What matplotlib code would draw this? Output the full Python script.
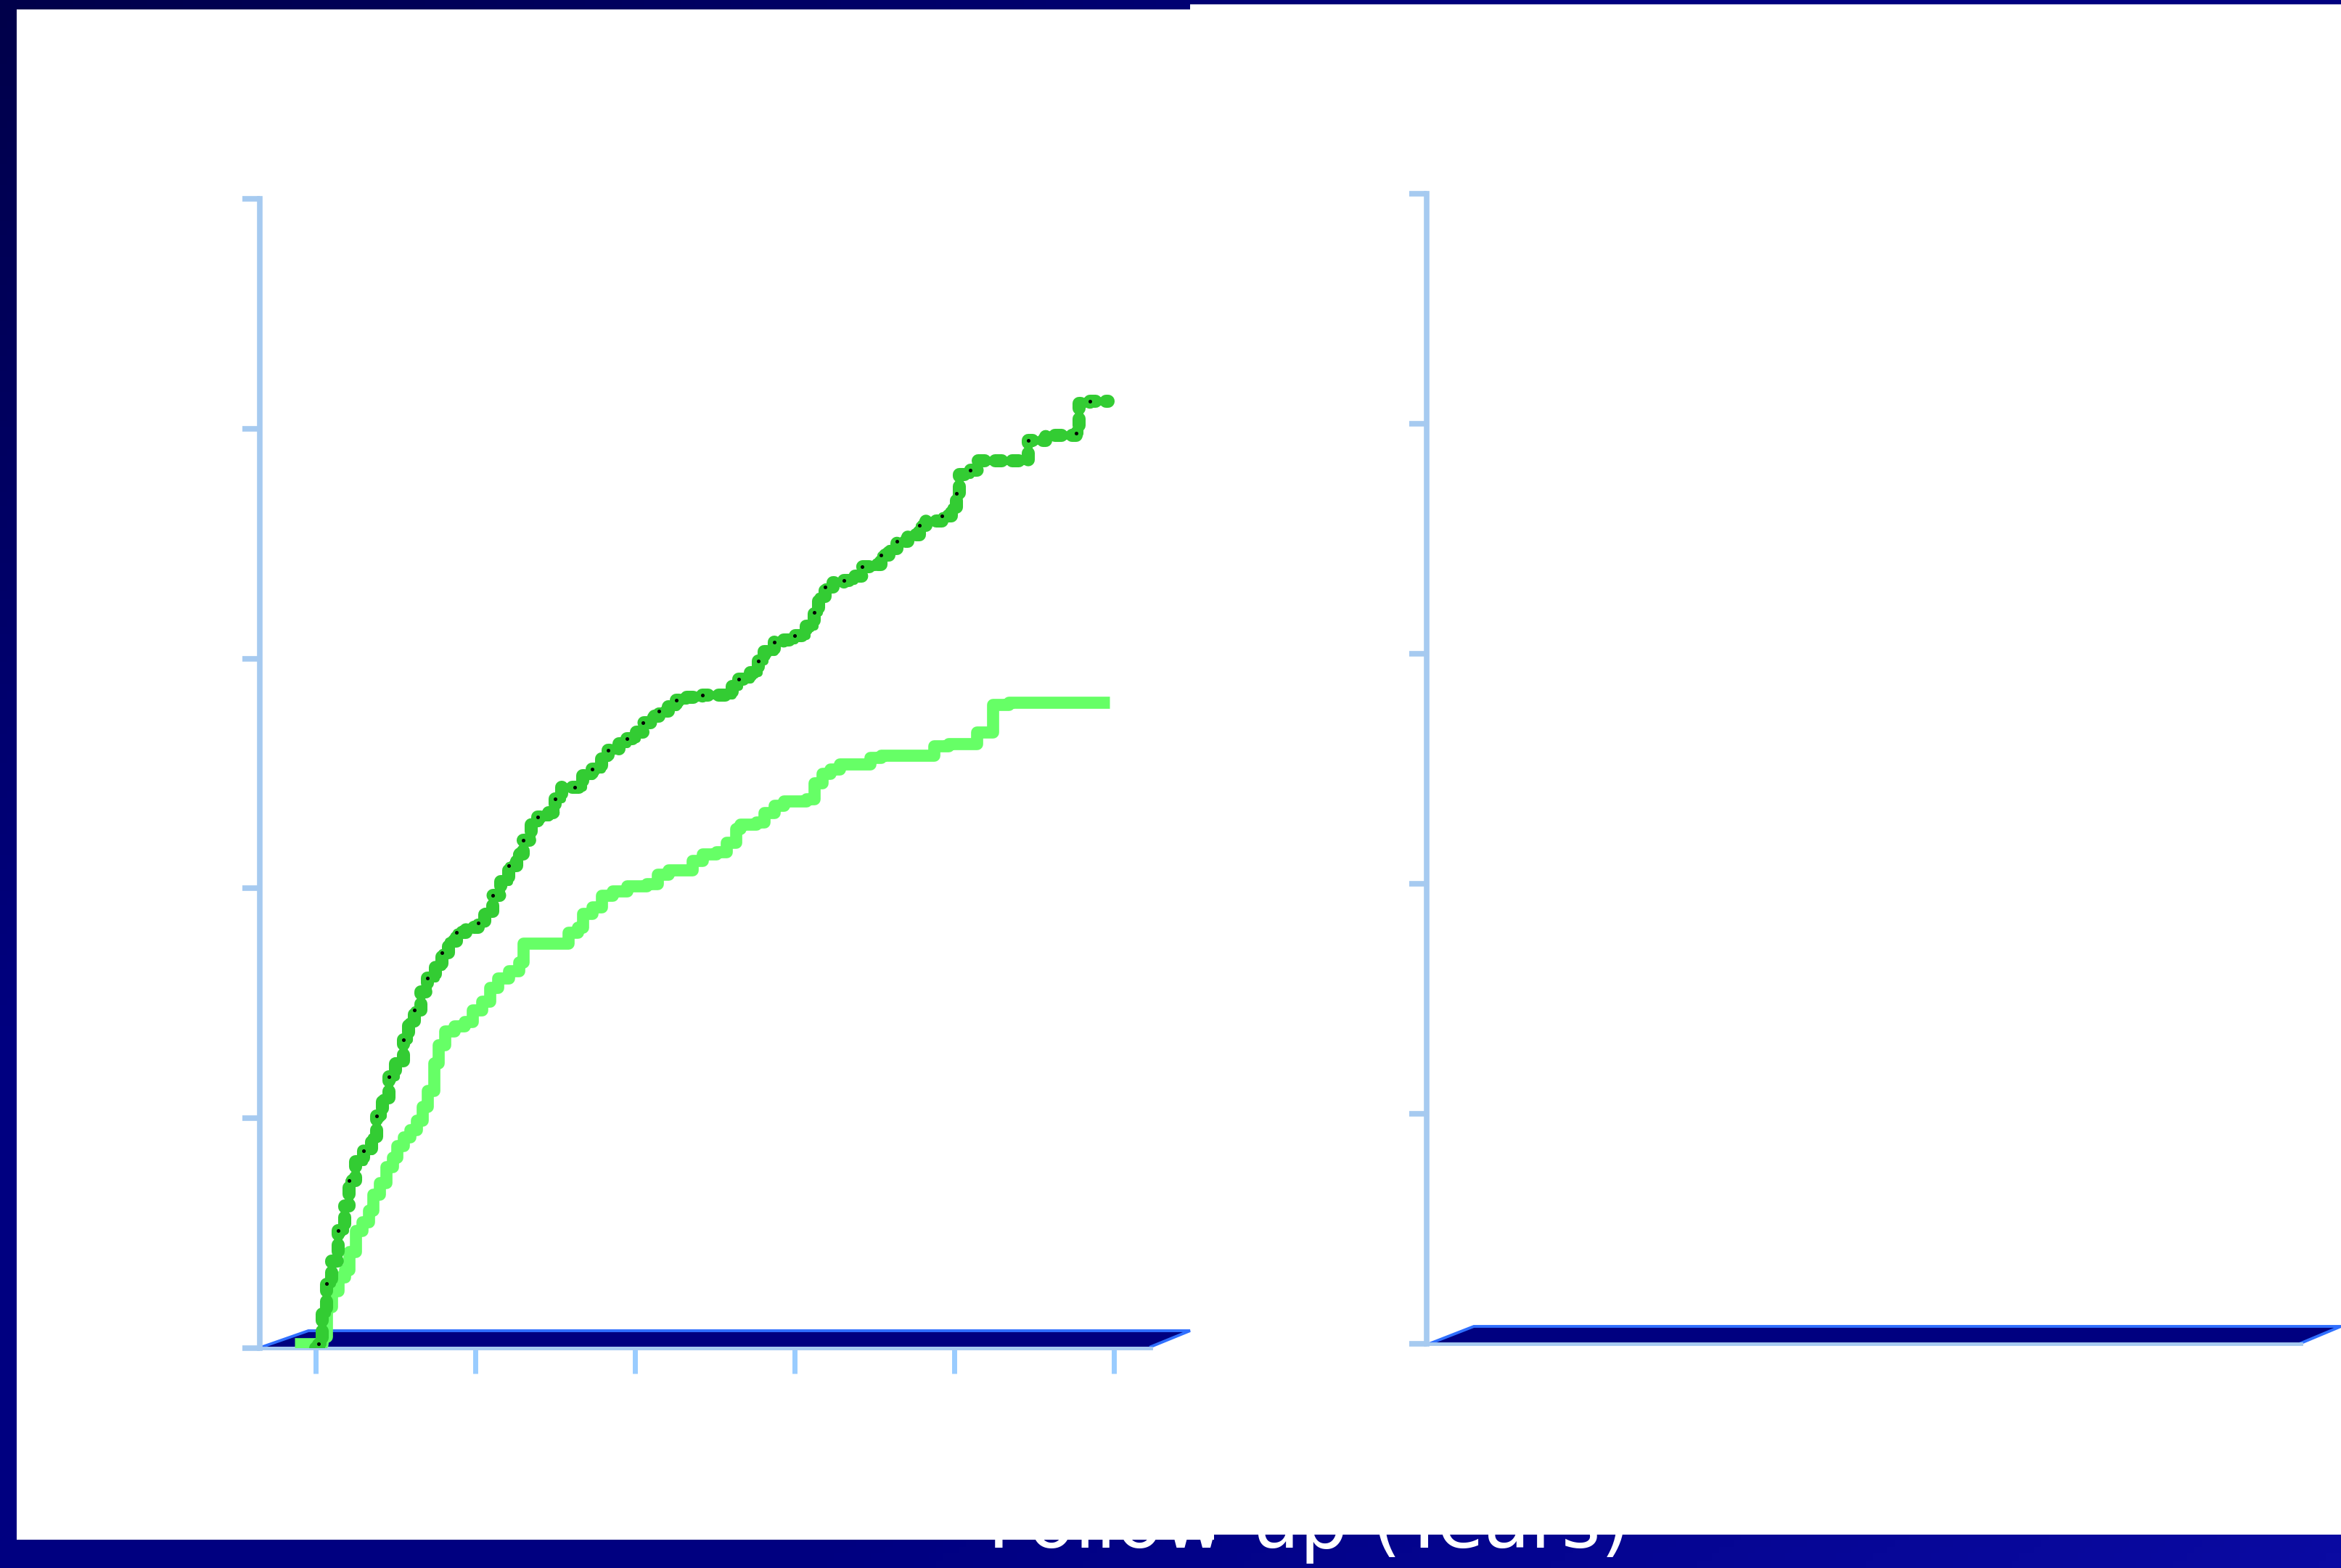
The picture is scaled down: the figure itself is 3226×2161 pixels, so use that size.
import numpy as np
import matplotlib.pyplot as plt
from matplotlib.patches import Polygon, Rectangle
from matplotlib.colors import LinearSegmentedColormap

# cumulative incidence (%) against follow-up time (years)
years_dark = [0.00, 0.02, 0.04, 0.07, 0.10, 0.14, 0.18, 0.21, 0.25, 0.30, 0.35, 0.38, 0.42,
              0.46, 0.50, 0.55, 0.58, 0.62, 0.66, 0.70, 0.75, 0.79, 0.83, 0.88, 0.94,
              1.02, 1.06, 1.11, 1.16, 1.21, 1.26, 1.30, 1.35, 1.39, 1.46, 1.50, 1.54,
              1.62, 1.67, 1.73, 1.79, 1.83, 1.90, 1.95, 2.01, 2.05, 2.10, 2.15, 2.21,
              2.26, 2.32, 2.42, 2.61, 2.65, 2.72, 2.77, 2.81, 2.87, 2.93, 3.00, 3.07,
              3.12, 3.15, 3.19, 3.24, 3.31, 3.37, 3.42, 3.50, 3.54, 3.59, 3.64, 3.71,
              3.78, 3.82, 3.92, 3.98, 4.01, 4.03, 4.10, 4.15, 4.46, 4.57, 4.76, 4.78,
              4.85, 4.96]
rate_dark = [0.0, 0.2, 1.5, 2.8, 3.8, 5.1, 6.2, 7.3, 8.1, 8.6, 9.2, 10.1, 10.9,
             11.8, 12.5, 13.4, 14.2, 14.7, 15.5, 16.1, 16.6, 17.2, 17.7, 18.1, 18.3,
             18.5, 19.0, 19.7, 20.3, 21.0, 21.5, 22.1, 22.9, 23.1, 23.3, 23.9, 24.4,
             24.4, 24.9, 25.2, 25.7, 26.0, 26.3, 26.5, 26.8, 27.2, 27.5, 27.7, 27.9,
             28.2, 28.3, 28.4, 28.8, 29.1, 29.4, 29.9, 30.3, 30.7, 30.8, 31.0, 31.4,
             32.0, 32.7, 33.1, 33.3, 33.4, 33.6, 34.0, 34.1, 34.5, 34.8, 35.1, 35.4,
             35.8, 36.0, 36.2, 36.6, 37.2, 38.0, 38.2, 38.6, 39.5, 39.7, 39.8, 41.1,
             41.2, 41.2]

years_light = [-0.13, 0.04, 0.07, 0.10, 0.14, 0.18, 0.21, 0.25, 0.29, 0.33, 0.36, 0.40,
               0.44, 0.48, 0.51, 0.55, 0.59, 0.63, 0.67, 0.70, 0.74, 0.77, 0.81, 0.87,
               0.93, 0.98, 1.04, 1.09, 1.14, 1.21, 1.27, 1.30, 1.58, 1.64, 1.67, 1.73,
               1.79, 1.86, 1.95, 2.07, 2.14, 2.21, 2.36, 2.42, 2.51, 2.57, 2.63, 2.66,
               2.76, 2.81, 2.87, 2.93, 3.07, 3.12, 3.17, 3.22, 3.28, 3.47, 3.54, 3.87,
               3.96, 4.14, 4.24, 4.34, 4.97]
rate_light = [0.2, 0.5, 1.8, 2.5, 3.1, 3.4, 4.2, 5.1, 5.5, 6.0, 6.7, 7.2,
              7.9, 8.3, 8.8, 9.2, 9.5, 9.9, 10.5, 11.2, 12.4, 13.2, 13.8, 14.0,
              14.2, 14.7, 15.1, 15.7, 16.1, 16.4, 16.8, 17.6, 18.1, 18.3, 18.9, 19.2,
              19.7, 19.9, 20.1, 20.2, 20.6, 20.8, 21.2, 21.5, 21.6, 22.0, 22.6, 22.8,
              22.9, 23.3, 23.6, 23.8, 23.9, 24.6, 25.0, 25.2, 25.4, 25.7, 25.8, 26.2,
              26.3, 26.8, 28.0, 28.1, 28.1]

x_ticks = [0, 1, 2, 3, 4, 5]
y_ticks = [0, 10, 20, 30, 40, 50]
xlabel = 'Follow-up (Years)'

W, H = 3226, 2161
fig = plt.figure(figsize=(W / 100, H / 100), dpi=100)

# slide background, pixel coordinates
bg = fig.add_axes([0, 0, 1, 1])
bg.set_xlim(0, W)
bg.set_ylim(H, 0)
bg.axis('off')
navy = LinearSegmentedColormap.from_list('navy', ['#00004a', '#000080', '#000080', '#0a0aa2'])
gx, gy = np.meshgrid(np.linspace(0, 1, 320), np.linspace(0, 1, 220))
bg.imshow((gx + gy) / 2, cmap=navy, extent=(0, W, H, 0), aspect='auto', zorder=0)

bg.text(1804, 2133, xlabel, color='white', fontsize=75, ha='center', va='baseline',
        family='DejaVu Sans', zorder=1)

# white chart panels sit over the label
bg.add_patch(Rectangle((23, 13), 1650, 2109, facecolor='white', edgecolor='none', zorder=2))
bg.add_patch(Rectangle((1640, 6), W - 1640, 2109, facecolor='white', edgecolor='none', zorder=2))

# flat 3-D floors under the plot areas
floors = [[(362, 1856), (1586, 1856), (1640, 1834), (425, 1834)],
          [(1972, 1851), (3171, 1851), (3226, 1828), (2031, 1828)]]
for pts in floors:
    bg.add_patch(Polygon(pts, closed=True, facecolor='#000080', edgecolor='none', zorder=3))
    xs = [pts[0][0], pts[3][0], pts[2][0], pts[1][0]]
    ys = [pts[0][1], pts[3][1], pts[2][1], pts[1][1]]
    bg.plot(xs, ys, color='#3070ff', lw=2.8, solid_joinstyle='miter', zorder=4)

axis_blue = '#a6caf0'
tick_blue = '#99ccff'


def style_axes(ax):
    ax.set_facecolor('none')
    for side in ['top', 'right']:
        ax.spines[side].set_visible(False)
    ax.spines['left'].set_color(axis_blue)
    ax.spines['left'].set_linewidth(5.5)
    ax.spines['bottom'].set_color(axis_blue)
    ax.spines['bottom'].set_linewidth(3.5)
    ax.set_ylim(0, 50)
    ax.set_yticks(y_ticks)
    ax.tick_params(axis='y', direction='out', length=17, width=5.5, color=axis_blue,
                   labelleft=False)


# left panel with the two curves
ax1 = fig.add_axes([358 / W, 1 - 1858 / H, (1586 - 358) / W, (1858 - 274) / H])
style_axes(ax1)
ax1.set_xlim(-0.35, 5.23)
ax1.set_xticks(x_ticks)
ax1.tick_params(axis='x', direction='out', length=25, width=5, color=tick_blue,
                labelbottom=False)

ax1.plot(years_light, rate_light, drawstyle='steps-post', color='#66ff66', lw=12,
         solid_joinstyle='round', solid_capstyle='butt', zorder=3)
ax1.plot(years_dark, rate_dark, drawstyle='steps-post', color='#33cc33', lw=8,
         solid_joinstyle='round', zorder=4)
ax1.plot(years_dark, rate_dark, drawstyle='steps-post', color='#33cc33', lw=13,
         linestyle=(0, (0.5, 0.8)), dash_capstyle='round', dash_joinstyle='round', zorder=4)
ax1.plot(years_dark[1::2], rate_dark[1::2], linestyle='none', marker='o', ms=2.6,
         color='black', zorder=5)

# right panel, empty frame
ax2 = fig.add_axes([1966 / W, 1 - 1852 / H, (3171 - 1966) / W, (1852 - 267) / H])
style_axes(ax2)
ax2.set_xlim(0, 1)
ax2.set_xticks([])

fig.savefig('out.png', dpi=100)
